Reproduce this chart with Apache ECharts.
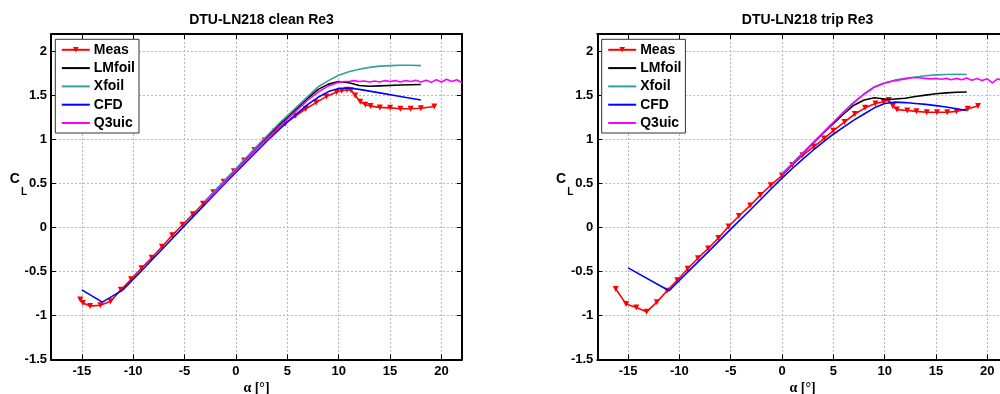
<!DOCTYPE html>
<html>
<head>
<meta charset="utf-8">
<script src="https://cdn.jsdelivr.net/npm/echarts@6/dist/echarts.min.js"></script>
<style>
  html, body { margin: 0; padding: 0; background: #fff; }
  #chart { width: 1000px; height: 394px; }
</style>
</head>
<body>
<div id="chart"></div>
<script>
// Lift coefficient C_L versus angle of attack alpha [deg], DTU-LN218 airfoil, Re3
const xTicks = [-15, -10, -5, 0, 5, 10, 15, 20];
const yTicks = [-1.5, -1, -0.5, 0, 0.5, 1, 1.5, 2];
const seriesNames = ['Meas', 'LMfoil', 'Xfoil', 'CFD', 'Q3uic'];
const titles = ['DTU-LN218 clean Re3', 'DTU-LN218 trip Re3'];

// ---- clean ----
const cleanMeas = [
  [-15.15, -0.82], [-14.9, -0.86], [-14.2, -0.895], [-13.2, -0.885], [-12.2, -0.84],
  [-11.2, -0.71], [-10.2, -0.59], [-9.2, -0.465], [-8.2, -0.345], [-7.2, -0.22],
  [-6.2, -0.09], [-5.2, 0.03], [-4.2, 0.15], [-3.2, 0.27], [-2.2, 0.40],
  [-1.2, 0.52], [-0.2, 0.64], [0.8, 0.76], [1.8, 0.88], [2.8, 0.99],
  [3.8, 1.09], [4.8, 1.18], [5.8, 1.27], [6.8, 1.35], [7.8, 1.42],
  [8.8, 1.49], [9.8, 1.54], [10.3, 1.555], [10.8, 1.565], [11.2, 1.56],
  [11.6, 1.50], [12.1, 1.43], [12.6, 1.395], [13.1, 1.38], [14.0, 1.365],
  [15.0, 1.36], [16.0, 1.35], [17.0, 1.35], [18.0, 1.355], [19.3, 1.375]
];
const cleanLMfoil = [
  [-3, 0.29], [0, 0.655], [2, 0.90], [4, 1.14], [6, 1.36], [7, 1.47], [8, 1.57],
  [9, 1.63], [10, 1.66], [11, 1.645], [12, 1.615], [13, 1.605], [14, 1.61],
  [16, 1.62], [18, 1.625]
];
const cleanXfoil = [
  [-3, 0.30], [0, 0.67], [2, 0.92], [4, 1.16], [6, 1.38], [7, 1.49], [8, 1.60],
  [9, 1.67], [10, 1.73], [11, 1.77], [12, 1.80], [13, 1.82], [14, 1.835],
  [15, 1.84], [16, 1.845], [17, 1.845], [18, 1.84]
];
const cleanCFD = [
  [-15, -0.71], [-13, -0.85], [-11, -0.71], [-9, -0.47], [-7, -0.225], [-5, 0.02],
  [-3, 0.265], [-1, 0.51], [1, 0.745], [3, 0.98], [5, 1.20], [7, 1.40], [8, 1.48],
  [9, 1.545], [10, 1.58], [11, 1.585], [12, 1.57], [14, 1.53], [16, 1.49], [18, 1.45]
];
const cleanQ3uic = [
  [-3, 0.28], [0, 0.645], [2, 0.89], [4, 1.12], [6, 1.34], [7, 1.45], [8, 1.54],
  [9, 1.61], [10, 1.65], [10.5, 1.66], [11, 1.66], [11.5, 1.67], [12, 1.66],
  [12.5, 1.665], [13, 1.655], [13.5, 1.665], [14, 1.655], [14.5, 1.67], [15, 1.66],
  [15.5, 1.67], [16, 1.655], [16.5, 1.67], [17, 1.66], [17.5, 1.675], [18, 1.655],
  [18.5, 1.675], [19, 1.65], [19.5, 1.68], [20, 1.655], [20.5, 1.685], [21, 1.66],
  [21.5, 1.68], [22, 1.645]
];

// ---- trip ----
const tripMeas = [
  [-16.2, -0.70], [-15.2, -0.87], [-14.2, -0.91], [-13.2, -0.96], [-12.2, -0.85],
  [-11.2, -0.72], [-10.2, -0.60], [-9.2, -0.47], [-8.2, -0.35], [-7.2, -0.24],
  [-6.2, -0.12], [-5.2, 0.01], [-4.2, 0.13], [-3.1, 0.25], [-2.1, 0.37],
  [-1.1, 0.48], [0.0, 0.59], [1.0, 0.71], [2.0, 0.82], [3.1, 0.92],
  [4.1, 1.01], [5.0, 1.10], [6.1, 1.20], [7.1, 1.29], [8.1, 1.36],
  [9.1, 1.41], [9.9, 1.43], [10.4, 1.45], [10.8, 1.38], [11.2, 1.34],
  [12.2, 1.33], [13.1, 1.32], [14.1, 1.31], [15.1, 1.31], [16.1, 1.31],
  [17.0, 1.32], [18.1, 1.35], [19.1, 1.38]
];
const tripLMfoil = [
  [0, 0.60], [2, 0.84], [4, 1.07], [6, 1.29], [7, 1.39], [8, 1.45], [9, 1.475],
  [10, 1.46], [10.5, 1.455], [11, 1.46], [12, 1.47], [13, 1.49], [14, 1.505],
  [15, 1.52], [16, 1.53], [17, 1.538], [18, 1.54]
];
const tripXfoil = [
  [0, 0.61], [2, 0.845], [4, 1.08], [6, 1.315], [7, 1.425], [8, 1.52], [9, 1.60],
  [10, 1.645], [11, 1.675], [12, 1.695], [13, 1.71], [14, 1.725], [15, 1.735],
  [16, 1.74], [17, 1.742], [18, 1.74]
];
const tripCFD = [
  [-15, -0.46], [-11, -0.72], [-9, -0.485], [-7, -0.255], [-5, -0.02], [-3, 0.21],
  [-1, 0.445], [0, 0.56], [1, 0.67], [2, 0.775], [3, 0.875], [4, 0.97], [5, 1.06],
  [6, 1.14], [7, 1.22], [8, 1.29], [9, 1.36], [10, 1.41], [11, 1.425], [12, 1.42],
  [13, 1.41], [14, 1.40], [15, 1.385], [16, 1.37], [17, 1.35], [18, 1.33]
];
const tripQ3uic = [
  [0, 0.60], [2, 0.84], [4, 1.075], [6, 1.31], [7, 1.42], [8, 1.515], [9, 1.595],
  [10, 1.64], [11, 1.67], [12, 1.69], [12.5, 1.70], [13, 1.705], [13.5, 1.70],
  [14, 1.695], [14.5, 1.69], [15, 1.695], [15.5, 1.685], [16, 1.695], [16.5, 1.68],
  [17, 1.695], [17.5, 1.68], [18, 1.70], [18.5, 1.675], [19, 1.695], [19.5, 1.67],
  [20, 1.69], [20.5, 1.645], [21, 1.69], [21.5, 1.67], [22, 1.68]
];

const panels = [
  [cleanMeas, cleanLMfoil, cleanXfoil, cleanCFD, cleanQ3uic],
  [tripMeas, tripLMfoil, tripXfoil, tripCFD, tripQ3uic]
];
const colors = ['#ff0000', '#000000', '#33a0a0', '#0000ff', '#ff00ff'];

const FONT = 'Liberation Sans, Arial, sans-serif';
const gridBoxes = [
  { left: 51, top: 34, width: 411, height: 325.3 },
  { left: 597.3, top: 34, width: 410.5, height: 325.3 }
];
const legendLeft = [55.3, 601.7];

const grid = [], xAxis = [], yAxis = [], legend = [], title = [], series = [];

gridBoxes.forEach((g, i) => {
  grid.push(Object.assign({ show: false, outerBoundsMode: 'none', containLabel: false }, g));

  title.push({
    text: titles[i],
    left: g.left + g.width / 2,
    top: 8,
    textAlign: 'center',
    textStyle: { fontFamily: FONT, fontWeight: 'bold', fontSize: 14, color: '#000' }
  });

  const xBase = {
    type: 'value', gridIndex: i, min: -18, max: 22,
    axisLine: { show: true, onZero: false, lineStyle: { color: '#000', width: 2 } },
    axisTick: { show: true, inside: true, length: 5, customValues: xTicks, lineStyle: { color: '#000', width: 1 } }
  };
  xAxis.push(Object.assign({}, xBase, {
    position: 'bottom',
    name: 'α [°]', nameLocation: 'middle', nameGap: 22, nameMoveOverlap: false,
    nameTextStyle: { fontFamily: 'Liberation Serif, Times New Roman, serif', fontWeight: 'bold', fontSize: 14, color: '#000' },
    axisLabel: { show: true, customValues: xTicks, margin: 6, fontFamily: FONT, fontWeight: 'bold', fontSize: 13, color: '#000' },
    splitLine: { show: true, lineStyle: { color: '#b8b8b8', width: 1, type: [2, 2] } }
  }));
  xAxis.push(Object.assign({}, xBase, {
    position: 'top',
    axisLabel: { show: false },
    splitLine: { show: false }
  }));

  const yBase = {
    type: 'value', gridIndex: i, min: -1.5, max: 2.2,
    axisLine: { show: true, onZero: false, lineStyle: { color: '#000', width: 2 } },
    axisTick: { show: true, inside: true, length: 5, customValues: yTicks, lineStyle: { color: '#000', width: 1 } }
  };
  yAxis.push(Object.assign({}, yBase, {
    position: 'left',
    name: '{c|C}{s|L}', nameLocation: 'middle', nameRotate: 0, nameGap: 24, nameMoveOverlap: false,
    nameTextStyle: {
      padding: [0, 0, 24, 0],
      rich: {
        c: { fontFamily: FONT, fontWeight: 'bold', fontSize: 14, color: '#000', verticalAlign: 'top' },
        s: { fontFamily: FONT, fontWeight: 'bold', fontSize: 10, color: '#000', verticalAlign: 'top', padding: [15, 0, 0, 1] }
      }
    },
    axisLabel: { show: true, customValues: yTicks, margin: 4, fontFamily: FONT, fontWeight: 'bold', fontSize: 13, color: '#000' },
    splitLine: { show: true, lineStyle: { color: '#b8b8b8', width: 1, type: [2, 2] } }
  }));
  yAxis.push(Object.assign({}, yBase, {
    position: 'right',
    axisLabel: { show: false },
    splitLine: { show: false }
  }));

  legend.push({
    orient: 'vertical',
    left: legendLeft[i], top: 39.3,
    // only the measured series carries a marker in the key
    data: seriesNames.map((n, k) => (k === 0 ? { name: n } : { name: n, itemStyle: { opacity: 0 } })),
    itemWidth: 28, itemHeight: 7, itemGap: 4.3,
    padding: [3.5, 4, 3, 5.5],
    backgroundColor: '#fff',
    borderColor: '#333', borderWidth: 1, borderRadius: 0,
    selectedMode: false,
    textStyle: { fontFamily: FONT, fontWeight: 'bold', fontSize: 14, color: '#000', padding: [0, 0, 0, -1] }
  });

  panels[i].forEach((data, k) => {
    const isMeas = k === 0;
    series.push({
      name: seriesNames[k],
      type: 'line',
      xAxisIndex: 2 * i, yAxisIndex: 2 * i,
      data: data,
      color: colors[k],
      lineStyle: { color: colors[k], width: 1.6 },
      itemStyle: { color: colors[k] },
      symbol: isMeas ? 'triangle' : 'none',
      symbolRotate: 180,
      symbolSize: 6,
      showSymbol: isMeas,
      clip: true,
      silent: true,
      z: 2 + k
    });
  });
});

const chart = echarts.init(document.getElementById('chart'), null, { renderer: 'canvas' });
chart.setOption({
  animation: false,
  backgroundColor: '#fff',
  title, grid, xAxis, yAxis, legend, series
});
</script>
</body>
</html>
